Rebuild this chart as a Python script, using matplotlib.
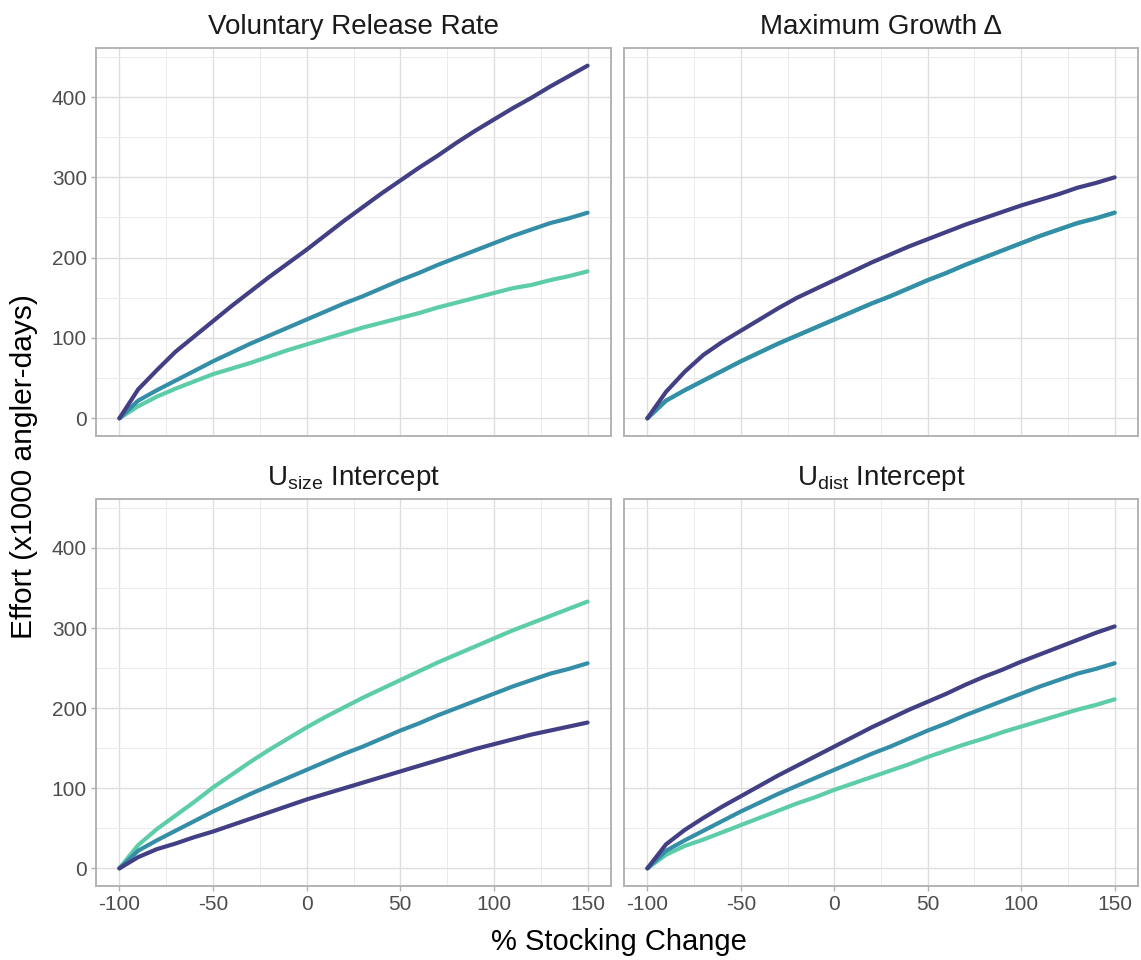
import matplotlib
matplotlib.use("Agg")
import matplotlib.pyplot as plt

plt.rcParams['font.family'] = ['Liberation Sans', 'DejaVu Sans']
plt.rcParams['mathtext.fontset'] = 'custom'
plt.rcParams['mathtext.rm'] = 'Liberation Sans'
plt.rcParams['mathtext.it'] = 'Liberation Sans:italic'

stocking = [-100, -90, -80, -70, -60, -50, -40, -30, -20, -10, 0, 10, 20,
            30, 40, 50, 60, 70, 80, 90, 100, 110, 120, 130, 140, 150]

baseline = [0, 22, 35, 47, 59, 71, 82, 93, 103, 113, 123, 133, 143,
            152, 162, 172, 181, 191, 200, 209, 218, 227, 235, 243, 249, 256]

release_high = [0, 36, 60, 83, 102, 121, 140, 158, 176, 193, 210, 228, 246,
                263, 280, 296, 312, 327, 343, 358, 372, 386, 399, 413, 426, 439]
release_low = [0, 15, 27, 37, 46, 55, 62, 69, 77, 85, 92, 99, 106,
               113, 119, 125, 131, 138, 144, 150, 156, 162, 166, 172, 177, 183]

growth_high = [0, 33, 58, 79, 95, 109, 123, 137, 150, 161, 172, 183, 194,
               204, 214, 223, 232, 241, 249, 257, 265, 272, 279, 287, 293, 300]
growth_low = baseline

usize_high = [0, 14, 24, 31, 39, 46, 54, 62, 70, 78, 86, 93, 100,
              107, 114, 121, 128, 135, 142, 149, 155, 161, 167, 172, 177, 182]
usize_low = [0, 29, 49, 66, 83, 101, 117, 133, 148, 162, 176, 189, 201,
             213, 224, 235, 246, 257, 267, 277, 287, 297, 306, 315, 324, 333]

udist_high = [0, 30, 48, 63, 77, 90, 103, 116, 128, 140, 152, 164, 176,
              187, 198, 208, 218, 229, 239, 248, 258, 267, 276, 285, 294, 302]
udist_low = [0, 17, 28, 36, 45, 54, 63, 72, 81, 89, 98, 106, 114,
             122, 130, 139, 147, 155, 162, 170, 177, 184, 191, 198, 204, 211]

panel_titles = ["Voluntary Release Rate", "Maximum Growth \u0394",
                r"U$_{\mathrm{size}}$ Intercept", r"U$_{\mathrm{dist}}$ Intercept"]
# series per panel: (green, teal, dark)
panel_series = [
    (release_low, baseline, release_high),
    (growth_low, baseline, growth_high),
    (usize_low, baseline, usize_high),
    (udist_low, baseline, udist_high),
]
colors = ["#5DCDA9", "#358EA8", "#433F85"]

x_ticks = [-100, -50, 0, 50, 100, 150]
x_minor = [-75, -25, 25, 75, 125]
y_ticks = [0, 100, 200, 300, 400]
y_minor = [50, 150, 250, 350, 450]

W, H = 1141, 960
fig = plt.figure(figsize=(W / 100, H / 100), dpi=100)

boxes = [(96, 48, 611, 436), (624, 48, 1138, 436),
         (96, 499, 611, 886), (624, 499, 1138, 886)]

for i, (x0, y0, x1, y1) in enumerate(boxes):
    ax = fig.add_axes([x0 / W, 1 - y1 / H, (x1 - x0) / W, (y1 - y0) / H])
    ax.set_xlim(-112.5, 162.5)
    ax.set_ylim(-22, 461)
    ax.set_xticks(x_ticks)
    ax.set_xticks(x_minor, minor=True)
    ax.set_yticks(y_ticks)
    ax.set_yticks(y_minor, minor=True)
    ax.grid(which='major', color='#DEDEDE', linewidth=1.0)
    ax.grid(which='minor', color='#EBEBEB', linewidth=0.7)
    ax.set_axisbelow(True)
    for s in ax.spines.values():
        s.set_color('#B3B3B3')
        s.set_linewidth(1.4)
    ax.tick_params(which='major', length=3.5, width=1, color='#B3B3B3',
                   labelsize=15, labelcolor='#4D4D4D', pad=3)
    ax.tick_params(which='minor', length=0)
    if i % 2 == 1:
        ax.tick_params(labelleft=False, left=False)
    if i < 2:
        ax.tick_params(labelbottom=False, bottom=False)
    else:
        ax.set_xticklabels([str(t) for t in x_ticks])
    for ys, c in zip(panel_series[i], colors):
        ax.plot(stocking, ys, color=c, linewidth=3.0, solid_capstyle='round',
                solid_joinstyle='round')
    ax.set_title(panel_titles[i], fontsize=20, color='#1A1A1A', pad=10)

fig.text(619 / W, 1 - 942 / H, "% Stocking Change", fontsize=21,
         ha='center', va='center', color='black')
fig.text(24 / W, 1 - 467 / H, "Effort (x1000 angler-days)", fontsize=21.5,
         rotation=90, ha='center', va='center', color='black')

fig.savefig("out.png", dpi=100)
